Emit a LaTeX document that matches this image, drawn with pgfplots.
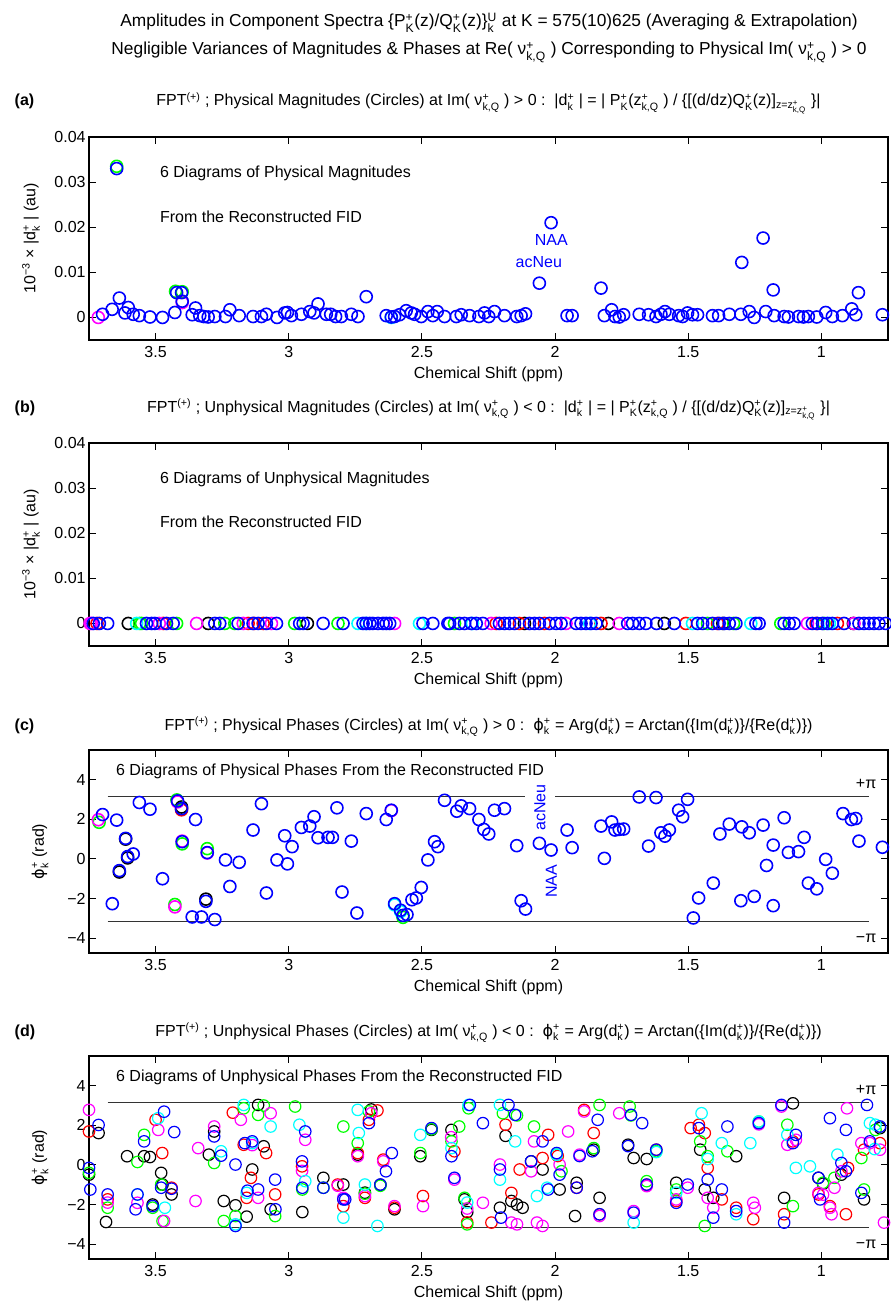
\documentclass[border=0pt]{standalone}
\usepackage{amsmath}
\usepackage{fontspec}
\setmainfont{Liberation Sans}
\newfontfamily\dejavu{DejaVu Sans}
\usepackage{pgfplots}
\pgfplotsset{compat=1.18}
\newcommand{\SU}[2]{\ensuremath{^{\text{#1}}_{\text{#2}}}}
\newcommand{\SP}[1]{\ensuremath{^{\text{#1}}}}
\newcommand{\ZZ}{\ensuremath{_{\text{z=z}^{\text{+}}_{\text{k,Q}}}}}
\newcommand{\PHI}{{\dejavu ϕ}}
\definecolor{mblue}{rgb}{0,0,1}
\definecolor{mred}{rgb}{1,0,0}
\definecolor{mgreen}{rgb}{0,1,0}
\definecolor{mmag}{rgb}{1,0,1}
\definecolor{mcyan}{rgb}{0,1,1}
\pgfplotsset{
 base/.style={
  scale only axis, width=599.25pt, height=152.25pt,
  anchor=north west,
  x dir=reverse, xmin=0.75, xmax=3.75,
  xtick={1,1.5,2,2.5,3,3.5}, xticklabels={1,1.5,2,2.5,3,3.5},
  tick align=inside, major tick length=5pt,
  axis line style={line width=0.8pt},
  every tick/.style={black,line width=0.8pt},
  xlabel={Chemical Shift (ppm)},
  xlabel style={at={(axis description cs:0.5,0)}, anchor=center, yshift=-25.5pt},
  xticklabel style={yshift=-1.5pt},
  yticklabel style={xshift=1pt},
  scaled y ticks=false, scaled x ticks=false,
  font=\fontsize{12}{14}\selectfont,
 },
 mag/.style={base, ymin=-0.005, ymax=0.04,
  ytick={0,0.01,0.02,0.03,0.04}, yticklabels={0,0.01,0.02,0.03,0.04},
  ylabel={10\SP{−3} × |d\SU{+}{k} | (au)},
  ylabel style={at={(axis description cs:-0.0726,0.5)}, anchor=center}},
 pha/.style={base, ymin=-4.75, ymax=5.5,
  ytick={-4,-2,0,2,4}, yticklabels={−4,−2,0,2,4},
  ylabel={\PHI\SU{+}{k} (rad)},
  ylabel style={at={(axis description cs:-0.0613,0.5)}, anchor=center}},
 pt/.style={only marks, mark=o, mark size=4.5pt, line width=1.2pt, color=#1},
 ptd/.style={only marks, mark=o, mark size=4.3pt, line width=0.9pt, color=#1},
 piline/.style={no marks, black!80, line width=0.8pt},
}
\begin{document}
\begin{tikzpicture}[font=\fontsize{12}{14}\selectfont]
\useasboundingbox (0,0) rectangle (668.25pt,-975.75pt);
% main titles
\node[anchor=base,font=\fontsize{13}{15}\selectfont] at (366.75pt,-20.25pt) {Amplitudes in Component Spectra \{P\SU{+}{K}(z)/Q\SU{+}{K}(z)\}\SU{U}{k} at K = 575(10)625 (Averaging \& Extrapolation)};
\node[anchor=base,font=\fontsize{13}{15}\selectfont] at (366.75pt,-41.25pt) {Negligible Variances of Magnitudes \& Phases at Re( ν\SU{+}{k,Q} ) Corresponding to Physical Im( ν\SU{+}{k,Q} ) > 0};
% panel titles
\node[anchor=base west,font=\fontsize{12}{14}\selectfont\bfseries] at (7.5pt,-79.5pt) {(a)};
\node[anchor=base] at (366.4pt,-79.5pt) {FPT\SP{(+)} ; Physical Magnitudes (Circles) at Im( ν\SU{+}{k,Q} ) > 0 :\ \ |d\SU{+}{k} | = | P\SU{+}{K}(z\SU{+}{k,Q} ) / \{[(d/dz)Q\SU{+}{K}(z)]\ZZ\ \}|};
\node[anchor=base west,font=\fontsize{12}{14}\selectfont\bfseries] at (7.5pt,-309pt) {(b)};
\node[anchor=base] at (366.4pt,-309pt) {FPT\SP{(+)} ; Unphysical Magnitudes (Circles) at Im( ν\SU{+}{k,Q} ) < 0 :\ \ |d\SU{+}{k} | = | P\SU{+}{K}(z\SU{+}{k,Q} ) / \{[(d/dz)Q\SU{+}{K}(z)]\ZZ\ \}|};
\node[anchor=base west,font=\fontsize{12}{14}\selectfont\bfseries] at (7.5pt,-547.5pt) {(c)};
\node[anchor=base] at (366.4pt,-547.5pt) {FPT\SP{(+)} ; Physical Phases (Circles) at Im( ν\SU{+}{k,Q} ) > 0 :\ \ \PHI\SU{+}{k} = Arg(d\SU{+}{k}) = Arctan(\{Im(d\SU{+}{k})\}/\{Re(d\SU{+}{k})\})};
\node[anchor=base west,font=\fontsize{12}{14}\selectfont\bfseries] at (7.5pt,-777pt) {(d)};
\node[anchor=base] at (366.4pt,-777pt) {FPT\SP{(+)} ; Unphysical Phases (Circles) at Im( ν\SU{+}{k,Q} ) < 0 :\ \ \PHI\SU{+}{k} = Arg(d\SU{+}{k}) = Arctan(\{Im(d\SU{+}{k})\}/\{Re(d\SU{+}{k})\})};

% ---------------- (a)
\begin{axis}[mag, at={(66.75pt,-102.75pt)}]
\addplot[pt=mmag] coordinates {(3.715,0)(3.400,0.0033)};
\addplot[pt=mgreen] coordinates {(3.646,0.0335)(3.425,0.0058)(3.400,0.0057)};
\addplot[pt=mcyan] coordinates {(2.615,0.0000)};
\addplot[pt=mblue] coordinates {(3.699,0.0007)(3.663,0.0018)(3.646,0.0330)(3.636,0.0043)(3.615,0.0010)(3.6025,0.0022)(3.584,0.0007)(3.561,0.0004)(3.521,0.0001)(3.474,0.0000)(3.4275,0.0011)(3.421,0.0055)(3.4025,0.0055)(3.400,0.0036)(3.3625,0.0006)(3.350,0.0021)(3.334,0.0004)(3.319,0.0002)(3.3025,0.0001)(3.2775,0.0002)(3.2375,0.0002)(3.221,0.0017)(3.186,0.0004)(3.134,0.0002)(3.1025,0.0002)(3.084,0.0007)(3.044,0.0000)(3.015,0.0010)(3.005,0.0011)(2.990,0.0004)(2.9525,0.0007)(2.921,0.0013)(2.905,0.0010)(2.890,0.0030)(2.859,0.0007)(2.8425,0.0007)(2.824,0.0002)(2.8025,0.0002)(2.765,0.0007)(2.740,0.0002)(2.709,0.0046)(2.634,0.0004)(2.615,0.0001)(2.6025,0.0002)(2.584,0.0006)(2.559,0.0015)(2.540,0.0010)(2.5275,0.0007)(2.5025,0.0002)(2.4775,0.0013)(2.459,0.0004)(2.4425,0.0013)(2.415,0.0002)(2.371,0.0002)(2.3525,0.0006)(2.321,0.0004)(2.286,0.0002)(2.265,0.0010)(2.249,0.0002)(2.2275,0.0013)(2.190,0.0004)(2.144,0.0002)(2.1275,0.0004)(2.111,0.0008)(2.059,0.0076)(2.015,0.0210)(1.955,0.0004)(1.936,0.0004)(1.8275,0.0065)(1.815,0.0004)(1.7875,0.0017)(1.775,0.0002)(1.759,0.0001)(1.7425,0.0006)(1.684,0.0007)(1.649,0.0006)(1.621,0.0002)(1.6025,0.0007)(1.5875,0.0013)(1.571,0.0007)(1.536,0.0004)(1.521,0.0002)(1.5025,0.0010)(1.484,0.0006)(1.465,0.0006)(1.409,0.0004)(1.386,0.0004)(1.346,0.0007)(1.3025,0.0007)(1.299,0.0122)(1.271,0.0013)(1.2525,0.0000)(1.219,0.0176)(1.209,0.0013)(1.181,0.0061)(1.1775,0.0004)(1.140,0.0002)(1.124,0.0001)(1.086,0.0002)(1.0675,0.0001)(1.049,0.0002)(1.0175,0.0001)(0.984,0.0011)(0.959,0.0002)(0.921,0.0004)(0.886,0.0019)(0.871,0.0006)(0.861,0.0055)(0.771,0.0006)};
\node[anchor=base west,inner sep=0pt] at (axis cs:3.484,0.0310) {6 Diagrams of Physical Magnitudes};
\node[anchor=base west,inner sep=0pt] at (axis cs:3.484,0.0211) {From the Reconstructed FID};
\node[anchor=base,inner sep=0pt,text=mblue] at (axis cs:2.014,0.0159) {NAA};
\node[anchor=base,inner sep=0pt,text=mblue] at (axis cs:2.061,0.0110) {acNeu};
\end{axis}

% ---------------- (b)
\begin{axis}[mag, at={(66.75pt,-332.25pt)}]
\addplot[pt=black] coordinates {(3.6025,0)(3.3025,0)(2.115,0)(1.59,0)(2.93,0)(1.80,0)(1.37,0)(0.88,0)};
\addplot[pt=mred] coordinates {(3.72,0)(3.471,0)(3.1525,0)(3.096,0)(2.221,0)(2.134,0)(2.04,0)(1.8275,0)(1.509,0)(0.94,0)(3.13,0)(1.39,0)(1.02,0)};
\addplot[pt=mgreen] coordinates {(3.56,0)(3.5525,0)(3.421,0)(3.24,0)(3.2025,0)(2.9775,0)(2.815,0)(2.3775,0)(1.4275,0)(1.1525,0)(1.33,0)(0.99,0)};
\addplot[pt=mmag] coordinates {(3.746,0)(3.486,0)(3.346,0)(3.171,0)(3.065,0)(2.6025,0)(2.24,0)(1.959,0)(1.759,0)(1.0525,0)(0.8775,0)(3.74,0)};
\addplot[pt=mcyan] coordinates {(3.571,0)(2.74,0)(2.509,0)(1.484,0)(1.265,0)(2.71,0)(0.97,0)(2.31,0)(1.87,0)};
\addplot[pt=mblue] coordinates {(3.734,0)(3.711,0)(3.68,0)(3.534,0)(3.515,0)(3.5025,0)(3.459,0)(3.434,0)(3.2775,0)(3.259,0)(3.19,0)(3.134,0)(3.115,0)(3.084,0)(3.046,0)(2.959,0)(2.946,0)(2.871,0)(2.796,0)(2.721,0)(2.709,0)(2.696,0)(2.684,0)(2.665,0)(2.646,0)(2.634,0)(2.621,0)(2.496,0)(2.459,0)(2.4025,0)(2.396,0)(2.359,0)(2.34,0)(2.315,0)(2.296,0)(2.271,0)(2.209,0)(2.19,0)(2.171,0)(2.1525,0)(2.096,0)(2.0775,0)(2.059,0)(2.021,0)(1.996,0)(1.9775,0)(1.921,0)(1.9025,0)(1.884,0)(1.865,0)(1.846,0)(1.7275,0)(1.709,0)(1.684,0)(1.659,0)(1.619,0)(1.5525,0)(1.465,0)(1.446,0)(1.409,0)(1.384,0)(1.365,0)(1.346,0)(1.321,0)(1.246,0)(1.234,0)(1.14,0)(1.121,0)(1.1025,0)(1.034,0)(1.015,0)(0.996,0)(0.9775,0)(0.959,0)(0.915,0)(0.859,0)(0.84,0)(0.821,0)(0.8025,0)(0.784,0)(0.759,0)};
\node[anchor=base west,inner sep=0pt] at (axis cs:3.484,0.0311) {6 Diagrams of Unphysical Magnitudes};
\node[anchor=base west,inner sep=0pt] at (axis cs:3.484,0.0212) {From the Reconstructed FID};
\end{axis}

% ---------------- (c)
\begin{axis}[pha, at={(66.75pt,-562.5pt)}]
\addplot[piline] coordinates {(3.68,3.1416)(0.82,3.1416)};
\addplot[piline] coordinates {(3.68,-3.1416)(0.82,-3.1416)};
\addplot[pt=black] coordinates {(3.636,-0.66)(3.311,-2.03)(3.6125,1.0)(3.605,0.05)(3.4025,2.62)};
\addplot[pt=mred] coordinates {(3.4025,2.48)};
\addplot[pt=mgreen] coordinates {(3.712,1.85)(3.4275,-2.30)(3.306,0.52)(3.40,0.76)(2.571,-2.95)(3.42,2.98)};
\addplot[pt=mmag] coordinates {(3.715,1.98)(3.4275,-2.42)(3.4175,2.88)(3.306,0.30)(2.615,2.44)(3.40,0.90)};
\addplot[pt=mcyan] coordinates {(2.6025,-2.32)(2.58,-2.66)};
\addplot[pt=mblue] coordinates {(3.699,2.24)(3.6625,-2.26)(3.646,1.96)(3.636,-0.59)(3.6125,1.04)(3.605,0.12)(3.584,0.25)(3.561,2.85)(3.521,2.51)(3.474,-1.0)(3.4175,2.93)(3.4025,2.54)(3.400,0.87)(3.3625,-2.93)(3.350,1.99)(3.3275,-2.93)(3.311,-2.14)(3.306,0.32)(3.2775,-3.06)(3.2375,-0.05)(3.221,-1.39)(3.186,-0.17)(3.134,1.46)(3.1025,2.79)(3.084,-1.72)(3.044,-0.05)(3.015,1.17)(3.005,-0.25)(2.9875,0.62)(2.9525,1.59)(2.921,1.66)(2.905,2.13)(2.890,1.07)(2.8525,1.09)(2.836,1.09)(2.819,2.58)(2.800,-1.67)(2.765,0.90)(2.744,-2.73)(2.709,2.29)(2.634,1.99)(2.615,2.46)(2.6025,-2.26)(2.580,-2.59)(2.571,-2.85)(2.556,-2.81)(2.5375,-2.06)(2.521,-1.97)(2.5025,-1.44)(2.4775,-0.05)(2.4525,0.87)(2.440,0.62)(2.415,2.96)(2.369,2.41)(2.3525,2.68)(2.321,2.54)(2.286,1.99)(2.2675,1.49)(2.249,1.26)(2.2275,2.46)(2.190,2.54)(2.144,0.67)(2.1275,-2.11)(2.111,-2.53)(2.059,0.79)(2.015,0.45)(1.955,1.46)(1.936,0.57)(1.8275,1.66)(1.815,0.03)(1.7875,1.87)(1.775,1.46)(1.759,1.49)(1.7425,1.51)(1.684,3.13)(1.649,0.65)(1.621,3.10)(1.6025,1.32)(1.5875,1.15)(1.571,1.46)(1.536,2.46)(1.521,2.13)(1.5025,3.01)(1.481,-2.98)(1.461,-1.97)(1.406,-1.22)(1.381,1.26)(1.346,1.76)(1.3025,-2.11)(1.299,1.62)(1.271,1.32)(1.2525,-1.89)(1.219,1.71)(1.206,-0.33)(1.181,-2.36)(1.181,0.70)(1.140,2.08)(1.124,0.33)(1.086,0.37)(1.065,1.09)(1.049,-1.22)(1.0175,-1.51)(0.984,-0.02)(0.959,-0.72)(0.919,2.29)(0.8875,1.99)(0.871,2.04)(0.859,0.90)(0.771,0.59)};
\node[anchor=base west,inner sep=0pt] at (axis cs:3.649,4.23) {6 Diagrams of Physical Phases From the Reconstructed FID};
\node[rotate=90,fill=white,inner xsep=2pt,inner ysep=7pt,text=mblue] at (axis cs:2.057,2.59) {acNeu};
\node[rotate=90,fill=white,inner xsep=2pt,inner ysep=3pt,text=mblue] at (axis cs:2.014,-1.14) {NAA};
\node at (axis cs:0.832,3.81) {+π};
\node at (axis cs:0.832,-3.99) {−π};
\end{axis}

% ---------------- (d)
\begin{axis}[pha, at={(66.75pt,-792pt)}]
\addplot[piline] coordinates {(3.68,3.1416)(0.82,3.1416)};
\addplot[piline] coordinates {(3.68,-3.1416)(0.82,-3.1416)};
\addplot[ptd=black] coordinates {(3.714,1.61)(3.75,-0.49)(3.686,-2.88)(3.607,0.44)(3.543,0.44)(3.521,0.40)(3.511,-2.00)(3.479,-0.40)(3.474,-0.99)(3.44,-1.49)(3.30,0.52)(3.28,1.69)(3.244,-1.82)(3.20,-2.04)(3.158,-2.61)(3.137,-0.23)(3.115,3.03)(3.094,0.94)(3.068,-2.24)(2.949,-2.38)(2.87,-0.65)(2.795,-0.99)(2.741,0.52)(2.714,-1.40)(2.69,2.8)(2.656,-1.0)(2.603,-2.24)(2.506,0.44)(2.464,1.77)(2.389,1.77)(2.34,-1.74)(2.33,-2.38)(2.207,-2.16)(2.186,1.47)(2.164,-1.82)(2.143,-2.0)(2.122,-2.16)(2.09,0.18)(2.047,-0.23)(1.983,-1.24)(1.919,-0.90)(1.925,-2.58)(1.855,0.77)(1.833,-1.66)(1.726,1.02)(1.705,0.35)(1.656,0.30)(1.545,-0.90)(1.455,0.77)(1.438,-1.24)(1.406,-1.66)(1.32,0.44)(1.14,-1.66)(1.107,3.11)(1.011,-0.65)(0.994,-0.95)(0.925,-0.49)(0.84,-1.74)(0.78,1.86)};
\addplot[ptd=mred] coordinates {(3.75,1.69)(3.68,-1.74)(3.50,2.28)(3.475,0.6)(3.44,-1.15)(3.21,2.64)(3.169,1.02)(3.158,-1.66)(3.142,-0.65)(3.085,0.6)(3.051,-1.49)(2.95,-0.07)(2.816,-0.99)(2.795,-2.08)(2.741,0.6)(2.714,-1.66)(2.699,2.28)(2.667,2.75)(2.645,0.27)(2.603,-2.16)(2.496,-1.57)(2.378,0.69)(2.33,-2.9)(2.239,-2.91)(2.186,2.03)(2.164,-1.41)(2.133,-0.23)(2.047,0.35)(2.026,1.52)(1.99,0.45)(1.919,-1.15)(1.891,2.78)(1.855,1.61)(1.833,-2.5)(1.656,-1.0)(1.62,0.77)(1.545,-1.82)(1.491,1.86)(1.46,2.03)(1.438,1.61)(1.427,-0.15)(1.374,-1.74)(1.32,-2.16)(1.256,-2.74)(1.14,-2.49)(1.107,1.19)(1.011,-1.49)(0.968,-2.08)(0.90,-0.15)(0.908,-2.49)(0.84,0.77)(0.78,1.1)};
\addplot[ptd=mgreen] coordinates {(3.75,-0.4)(3.68,-2.16)(3.568,0.15)(3.543,1.52)(3.511,-2.16)(3.479,-0.99)(3.474,-2.83)(3.28,0.1)(3.244,-2.83)(3.20,-2.58)(3.169,2.86)(3.115,2.53)(3.094,3.0)(3.051,-2.58)(2.976,2.95)(2.949,-1.24)(2.87,-1.15)(2.795,1.94)(2.741,1.1)(2.714,-1.45)(2.699,2.7)(2.656,-1.05)(2.506,0.60)(2.464,1.8)(2.389,1.19)(2.36,1.94)(2.34,-1.66)(2.33,-3.0)(2.325,2.86)(2.196,2.61)(2.143,2.5)(2.079,1.94)(1.994,0.52)(1.976,-0.32)(1.855,0.85)(1.833,3.03)(1.72,2.95)(1.715,2.5)(1.656,-0.82)(1.62,0.69)(1.545,-1.24)(1.455,1.19)(1.427,0.44)(1.438,-3.08)(1.353,0.69)(1.235,2.19)(1.128,2.03)(1.107,-2.08)(0.994,-0.9)(0.951,-0.65)(0.85,0.35)(0.84,-1.24)(0.797,1.77)};
\addplot[ptd=mmag] coordinates {(3.75,2.78)(3.68,-1.90)(3.568,-1.91)(3.49,1.77)(3.468,-2.83)(3.35,-1.82)(3.34,0.85)(3.28,1.94)(3.18,2.28)(3.137,1.0)(3.115,-1.66)(3.068,2.61)(2.938,1.27)(2.95,-0.3)(2.816,-1.05)(2.795,-1.66)(2.741,0.44)(2.714,-1.57)(2.69,2.61)(2.645,0.18)(2.603,-2.08)(2.496,-2.08)(2.378,-0.74)(2.39,1.4)(2.33,-2.2)(2.271,-1.91)(2.207,0.02)(2.164,-2.91)(2.143,-3.0)(2.09,-0.32)(2.079,1.19)(2.068,-2.91)(2.047,-3.08)(1.983,0.02)(1.951,1.69)(1.908,0.52)(1.891,2.70)(1.833,-2.58)(1.759,2.61)(1.705,-2.33)(1.656,-1.07)(1.545,-1.74)(1.502,-1.15)(1.427,-1.66)(1.406,-2.16)(1.256,-1.91)(1.25,-2.16)(1.235,2.05)(1.15,2.95)(1.128,1.02)(1.096,1.27)(1.011,-1.41)(0.994,-1.5)(0.968,-2.16)(0.962,-2.49)(0.951,-1.15)(0.925,-0.32)(0.904,2.86)(0.85,1.10)(0.818,1.10)(0.78,0.77)(0.765,-2.91)};
\addplot[ptd=mcyan] coordinates {(3.568,-1.49)(3.49,2.36)(3.465,-2.16)(3.254,0.69)(3.20,-3.0)(3.169,3.03)(3.158,-1.41)(3.137,1.10)(3.068,1.94)(2.96,2.03)(2.938,-0.82)(2.795,-2.66)(2.741,2.78)(2.737,1.61)(2.714,-0.99)(2.667,-3.08)(2.506,1.52)(2.389,0.85)(2.325,3.03)(2.33,-1.9)(2.207,-0.74)(2.207,3.03)(2.15,1.19)(2.068,-1.57)(2.03,-1.15)(1.994,0.52)(1.705,-2.91)(1.62,0.65)(1.545,-1.4)(1.45,2.61)(1.427,0.30)(1.374,1.10)(1.32,-2.49)(1.267,1.10)(1.235,2.19)(1.128,1.52)(1.096,-0.15)(1.043,-0.07)(0.94,0.52)(0.818,2.11)(0.797,2.03)(0.80,0.8)};
\addplot[ptd=mblue] coordinates {(3.714,2.02)(3.75,-0.15)(3.745,-1.24)(3.68,-1.49)(3.575,-2.24)(3.568,-1.49)(3.543,1.19)(3.511,-2.08)(3.468,2.69)(3.479,-1.15)(3.43,1.66)(3.44,-1.2)(3.28,1.44)(3.254,0.47)(3.20,-3.08)(3.20,0.02)(3.165,1.1)(3.155,-1.3)(3.137,1.19)(3.115,-1.24)(3.051,-0.74)(3.05,-2.24)(2.95,0.18)(2.949,-1.15)(2.938,1.69)(2.87,-1.15)(2.795,-1.74)(2.788,-1.74)(2.699,2.11)(2.656,-0.99)(2.635,-0.32)(2.613,0.6)(2.464,1.86)(2.389,0.44)(2.378,-0.65)(2.32,3.03)(2.271,2.11)(2.207,-0.23)(2.203,-2.66)(2.175,3.03)(2.15,2.53)(2.09,0.18)(2.047,1.19)(2.026,-1.24)(1.994,0.6)(1.983,-0.49)(1.919,-1.15)(1.908,0.45)(1.86,0.69)(1.84,2.28)(1.833,-2.49)(1.726,0.95)(1.715,2.53)(1.705,-2.41)(1.673,2.11)(1.656,-0.99)(1.62,0.77)(1.545,-1.91)(1.502,-0.99)(1.46,1.86)(1.427,-0.74)(1.406,-2.66)(1.374,-1.24)(1.353,1.94)(1.32,-2.33)(1.235,2.11)(1.15,3.03)(1.14,-2.91)(1.107,1.10)(1.096,1.52)(1.011,-0.65)(1.005,-1.74)(0.968,2.36)(0.925,0.10)(0.908,-0.32)(0.908,1.77)(0.85,-1.41)(0.829,3.03)(0.818,1.19)(0.78,1.94)(0.748,2.44)};
\node[anchor=base west,inner sep=0pt] at (axis cs:3.649,4.22) {6 Diagrams of Unphysical Phases From the Reconstructed FID};
\node at (axis cs:0.832,3.81) {+π};
\node at (axis cs:0.832,-3.99) {−π};
\end{axis}
\end{tikzpicture}
\end{document}
